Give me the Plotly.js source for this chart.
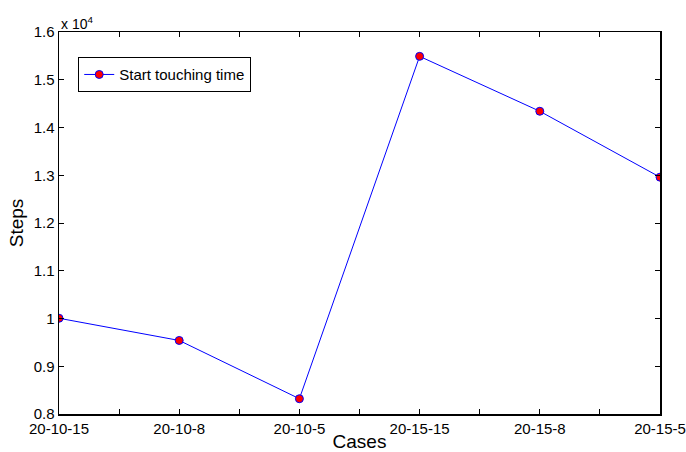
<!DOCTYPE html>
<html>
<head>
<meta charset="utf-8">
<script src="https://cdn.plot.ly/plotly-3.0.1.min.js"></script>
<style>html,body{margin:0;padding:0;background:#fff;}#chart{width:686px;height:452px;}</style>
</head>
<body>
<div id="chart"></div>
<script>
const categories = ["20-10-15", "20-10-8", "20-10-5", "20-15-15", "20-15-8", "20-15-5"];
const steps = [10005, 9540, 8320, 15490, 14340, 12960];
const seriesName = "Start touching time";
const yTickVals = [8000, 9000, 10000, 11000, 12000, 13000, 14000, 15000, 16000];
const yTickText = ["0.8", "0.9", "1", "1.1", "1.2", "1.3", "1.4", "1.5", "1.6"];

const xIdx = categories.map((c, i) => i);
const xTickVals = [];
const xTickText = [];
for (let i = 0; i < categories.length; i++) {
  xTickVals.push(i); xTickText.push(categories[i]);
  if (i < categories.length - 1) { xTickVals.push(i + 0.5); xTickText.push(""); }
}

const font = "Liberation Sans, Arial, Helvetica, sans-serif";

Plotly.newPlot("chart", [{
  x: xIdx, y: steps, type: "scatter", mode: "lines+markers", name: seriesName,
  line: {color: "#0000ff", width: 1},
  marker: {color: "#ff0000", size: 8, line: {color: "#0000ff", width: 1}}
}], {
  width: 686, height: 452,
  margin: {l: 59, r: 26, t: 32, b: 38, pad: 0},
  paper_bgcolor: "#fff", plot_bgcolor: "#fff",
  font: {family: font, size: 15, color: "#000"},
  showlegend: true,
  legend: {x: 0.032, y: 0.934, xanchor: "left", yanchor: "top", bgcolor: "#fff",
           bordercolor: "#000", borderwidth: 1, font: {family: font, size: 15, color: "#000"},
           tracegroupgap: 0},
  xaxis: {range: [0, 5], tickmode: "array", tickvals: xTickVals, ticktext: xTickText,
          ticks: "inside", ticklen: 5, tickcolor: "#000", tickwidth: 1,
          showline: true, linecolor: "#000", linewidth: 1.5, mirror: "allticks",
          showgrid: false, zeroline: false, tickfont: {family: font, size: 15},
          title: {text: "Cases", font: {family: font, size: 19}, standoff: 0}},
  yaxis: {range: [8000, 16000], tickmode: "array", tickvals: yTickVals, ticktext: yTickText,
          ticks: "inside", ticklen: 5, tickcolor: "#000", tickwidth: 1,
          showline: true, linecolor: "#000", linewidth: 1.5, mirror: "allticks",
          showgrid: false, zeroline: false, tickfont: {family: font, size: 15},
          title: {text: "Steps", font: {family: font, size: 19}, standoff: 5}},
  annotations: [{xref: "paper", yref: "paper", x: 0, y: 1, xanchor: "left", yanchor: "bottom",
                 text: "x 10<sup>4</sup>", showarrow: false, font: {family: font, size: 14, color: "#000"},
                 xshift: 0, yshift: -2}]
}, {displayModeBar: false, staticPlot: true});
</script>
</body>
</html>
